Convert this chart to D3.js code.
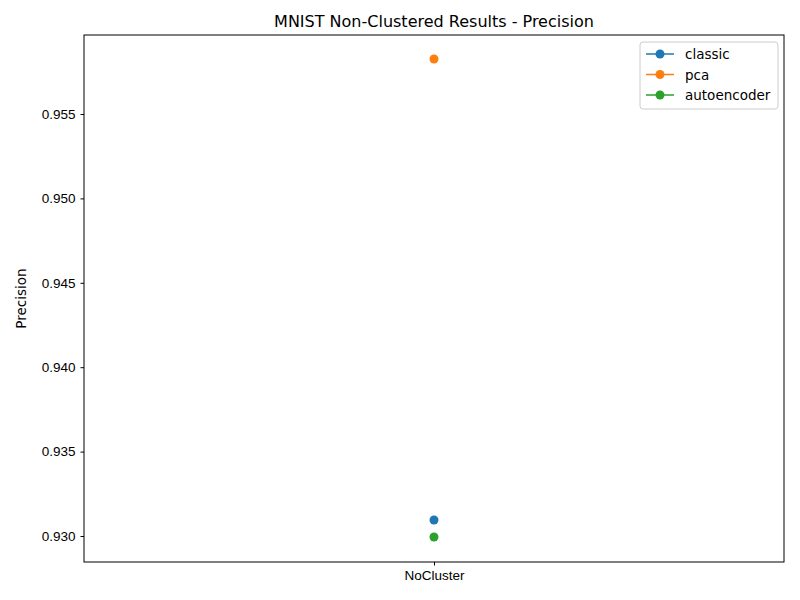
<!DOCTYPE html>
<html lang="en">
<head>
  <meta charset="UTF-8" />
  <title>MNIST Non-Clustered Results - Precision</title>
  <style>
    body { margin: 0; font-family: "DejaVu Sans", sans-serif; }
  </style>
</head>
<body>
  <div id="chart"></div>
  <script src="https://d3js.org/d3.v7.min.js"></script>
  <script>
    const categories = ["NoCluster"];
    const seriesNames = ["classic", "pca", "autoencoder"];
    const seriesValues = [[0.93095], [0.95826], [0.92994]];
    const colors = ["#1f77b4", "#ff7f0e", "#2ca02c"];
    const yTicks = [0.930, 0.935, 0.940, 0.945, 0.950, 0.955];

    const margin = { top: 35, right: 16, bottom: 38, left: 84 },
          width = 800 - margin.left - margin.right,
          height = 600 - margin.top - margin.bottom;

    const svg = d3.select("#chart").append("svg")
      .attr("width", 800).attr("height", 600)
      .style("font-family", "DejaVu Sans, sans-serif");

    const g = svg.append("g")
      .attr("transform", `translate(${margin.left},${margin.top})`);

    const x = d3.scalePoint().domain(categories).range([0, width]).padding(0.5);
    const y = d3.scaleLinear().domain([0.92846, 0.95968]).range([height, 0]);

    const yAxis = g.append("g")
      .call(d3.axisLeft(y).tickValues(yTicks).tickFormat(d3.format(".3f")).tickSizeOuter(0).tickSize(3.5).tickPadding(5));
    const xAxis = g.append("g")
      .attr("transform", `translate(0,${height})`)
      .call(d3.axisBottom(x).tickSizeOuter(0).tickSize(3.5).tickPadding(5));
    [xAxis, yAxis].forEach(a => {
      a.selectAll("text").attr("font-size", "13.5px").attr("fill", "#000");
      a.select(".domain").remove();
    });

    g.append("rect").attr("width", width).attr("height", height)
      .attr("fill", "none").attr("stroke", "#000").attr("stroke-width", 1);

    seriesValues.forEach((vals, i) => {
      g.selectAll(null).data(vals).enter().append("circle")
        .attr("cx", (d, j) => x(categories[j]))
        .attr("cy", d => y(d))
        .attr("r", 4.5)
        .attr("fill", colors[i]);
    });

    svg.append("text").attr("x", margin.left + width / 2).attr("y", 27)
      .attr("text-anchor", "middle").attr("font-size", "16px").text("MNIST Non-Clustered Results - Precision");
    svg.append("text").attr("transform", `translate(26,${margin.top + height / 2}) rotate(-90)`)
      .attr("text-anchor", "middle").attr("font-size", "13.5px").text("Precision");

    const legend = svg.append("g").attr("transform", "translate(640,42)");
    legend.append("rect").attr("width", 138).attr("height", 67).attr("rx", 3)
      .attr("fill", "#fff").attr("fill-opacity", 0.8).attr("stroke", "#ccc");
    seriesNames.forEach((n, i) => {
      const ly = 12 + i * 20.5;
      legend.append("line").attr("x1", 6).attr("x2", 34).attr("y1", ly).attr("y2", ly)
        .attr("stroke", colors[i]).attr("stroke-width", 1.5);
      legend.append("circle").attr("cx", 20).attr("cy", ly).attr("r", 4.5).attr("fill", colors[i]);
      legend.append("text").attr("x", 45).attr("y", ly + 5).attr("font-size", "13.5px").text(n);
    });
  </script>
</body>
</html>
